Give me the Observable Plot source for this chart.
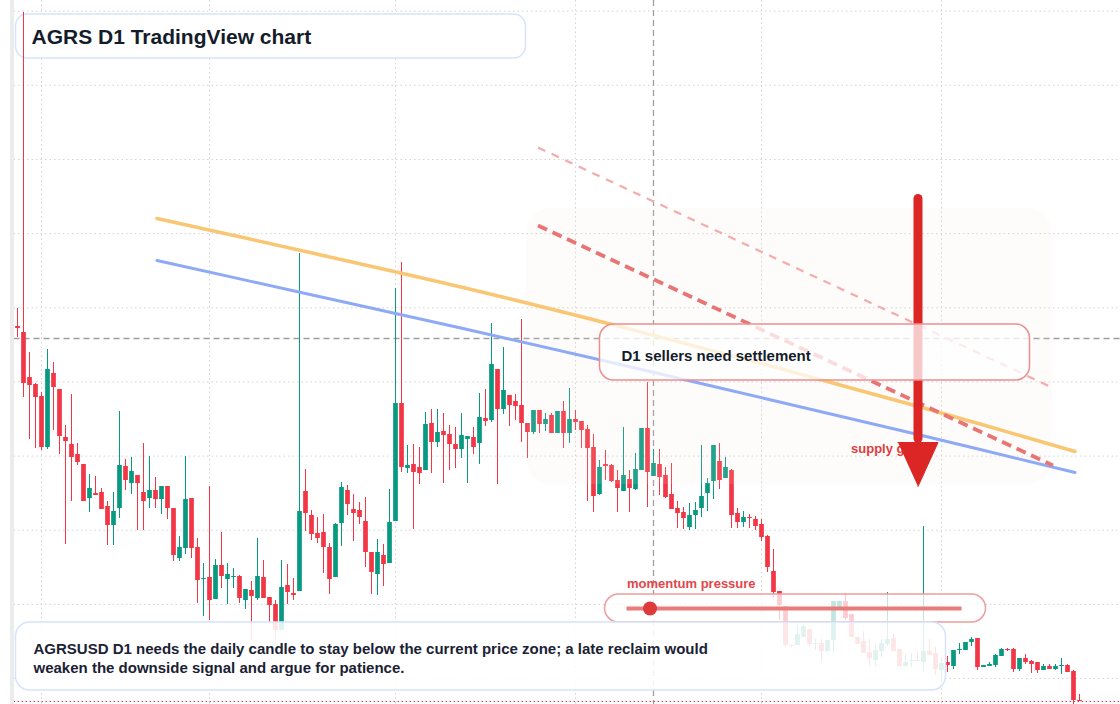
<!DOCTYPE html>
<html>
<head>
<meta charset="utf-8">
<script src="https://cdn.jsdelivr.net/npm/d3@7"></script>
<script src="https://cdn.jsdelivr.net/npm/@observablehq/plot@0.6"></script>
<style>
  html, body { margin: 0; padding: 0; background: #ffffff; }
  #wrap { position: relative; width: 1120px; height: 704px; overflow: hidden; background: #ffffff; }
  #wrap svg { position: absolute; left: 0; top: 0; }
  #strip { position: absolute; left: 10px; top: 0; width: 4px; height: 704px; background: #ececec; z-index: 2; }
</style>
</head>
<body>
<div id="wrap"></div>
<script>
const FONT = "'Liberation Sans', Arial, Helvetica, sans-serif";
const GREEN = "#089981";
const RED = "#f23645";

// Daily candles, day 0 = 2025-01-28 (AGRSUSD, D1)
const openP = [
  .874,.868,.823,.816,.804,.753,.827,.811,.763,.756,
  .746,.736,.702,.707,.708,.694,.675,.692,.734,.717,
  .725,.708,.702,.710,.701,.714,.692,.642,.652,.702,
  .653,.621,.623,.601,.635,.621,.623,.624,.600,.610,
  .602,.623,.603,.596,.570,.615,.607,.609,.709,.685,
  .667,.668,.653,.623,.677,.710,.691,.690,.679,.648,
  .626,.645,.637,.679,.797,.732,.736,.733,.730,.777,
  .758,.769,.766,.756,.751,.761,.763,.757,.782,.780,
  .831,.791,.805,.799,.795,.777,.768,.790,.776,.785,
  .767,.789,.767,.781,.779,.771,.753,.706,.736,.735,
  .720,.709,.721,.711,.730,.772,.724,.736,.725,.706,
  .692,.688,.673,.685,.692,.707,.719,.739,.722,.730,
  .687,.678,.683,.681,.676,.664,.629,.609,.594,.555,
  .555,.563,.571,.556,.557,.549,.560,.592,.599,.586,
  .563,.559,.548,.540,.549,.556,.562,.551,.534,.539,
  .540,.538,.549,.547,.530,.538,.534,.550,.550,.558,
  .562,.533,.534,.535,.544,.551,.551,.531,.542,.539,
  .538,.530,.534,.531,.534,.535,.529,.500
];
const highP = [
  .892,1.188,.848,.817,.808,.851,.838,.811,.775,.806,
  .757,.736,.726,.724,.712,.699,.708,.789,.741,.743,
  .725,.757,.744,.723,.714,.714,.692,.664,.744,.702,
  .662,.637,.714,.641,.668,.637,.632,.625,.611,.619,
  .662,.640,.603,.600,.640,.636,.622,.947,.731,.690,
  .683,.686,.657,.677,.718,.715,.706,.698,.703,.648,
  .661,.656,.711,.912,.938,.755,.756,.753,.788,.791,
  .791,.787,.775,.773,.787,.764,.773,.807,.811,.877,
  .831,.853,.805,.806,.881,.777,.790,.790,.787,.787,
  .789,.799,.812,.790,.779,.775,.766,.740,.750,.736,
  .730,.773,.730,.747,.772,.818,.751,.751,.733,.737,
  .699,.693,.697,.698,.755,.722,.755,.757,.743,.731,
  .692,.689,.686,.684,.681,.665,.651,.609,.594,.555,
  .575,.575,.571,.561,.561,.560,.599,.599,.607,.586,
  .563,.569,.561,.557,.561,.608,.567,.551,.546,.547,
  .549,.674,.561,.553,.543,.544,.550,.557,.558,.563,
  .562,.535,.538,.546,.552,.552,.552,.542,.546,.540,
  .538,.536,.536,.536,.542,.536,.530,.506
];
const lowP = [
  .863,.803,.761,.752,.750,.751,.770,.746,.656,.699,
  .735,.699,.688,.705,.691,.655,.655,.682,.710,.706,
  .670,.670,.692,.692,.686,.681,.639,.639,.646,.642,
  .597,.584,.580,.601,.612,.596,.612,.597,.591,.560,
  .600,.602,.578,.560,.570,.596,.600,.609,.669,.660,
  .657,.627,.606,.623,.654,.685,.659,.676,.633,.606,
  .605,.614,.637,.679,.728,.727,.671,.716,.730,.727,
  .753,.717,.730,.732,.742,.717,.746,.736,.774,.778,
  .716,.786,.774,.780,.758,.742,.766,.767,.769,.767,
  .767,.752,.757,.770,.752,.699,.688,.705,.720,.718,
  .688,.709,.688,.710,.730,.693,.724,.705,.702,.691,
  .672,.671,.670,.671,.683,.689,.701,.711,.722,.672,
  .672,.673,.672,.670,.659,.628,.602,.580,.553,.553,
  .555,.563,.554,.550,.538,.549,.547,.592,.580,.563,
  .556,.547,.534,.534,.543,.554,.549,.534,.534,.533,
  .539,.529,.545,.525,.518,.528,.531,.546,.550,.554,
  .530,.533,.534,.533,.544,.549,.528,.529,.536,.527,
  .527,.530,.531,.530,.526,.528,.496,.499
];
const closeP = [
  .872,.817,.815,.803,.753,.831,.813,.764,.759,.743,
  .738,.699,.712,.705,.691,.675,.689,.735,.720,.729,
  .717,.699,.710,.701,.714,.692,.645,.653,.701,.652,
  .620,.622,.600,.635,.624,.626,.624,.602,.611,.604,
  .624,.602,.595,.570,.613,.608,.605,.689,.687,.666,
  .662,.653,.621,.676,.713,.696,.687,.683,.648,.628,
  .648,.636,.678,.797,.733,.735,.728,.727,.776,.758,
  .768,.765,.756,.751,.765,.764,.753,.783,.779,.836,
  .791,.810,.795,.794,.777,.768,.790,.776,.781,.767,
  .789,.767,.781,.778,.770,.752,.704,.733,.734,.719,
  .712,.725,.712,.731,.772,.728,.737,.723,.703,.691,
  .687,.682,.685,.690,.704,.717,.755,.720,.733,.685,
  .678,.683,.682,.674,.663,.633,.608,.595,.555,.554,
  .566,.574,.556,.557,.549,.560,.599,.599,.582,.563,
  .556,.547,.542,.550,.557,.561,.549,.534,.538,.540,
  .539,.549,.545,.531,.537,.535,.550,.551,.558,.561,
  .533,.535,.536,.545,.551,.550,.531,.542,.538,.536,
  .530,.534,.531,.534,.535,.528,.500,.499
];

// Grid: month starts (day index) and horizontal price levels
const monthStarts = [4, 32, 63, 93, 124, 154];
const monthNames = ["Feb", "Mar", "Apr", "May", "Jun", "Jul"];
const priceGrid = [1.1893, 1.1152, 1.0410, 0.9669, 0.8927, 0.8186, 0.7444, 0.6703, 0.5961, 0.5220];

// Crosshair
const crossDay = 106;
const crossPrice = 0.862;

// Trend lines (day, price)
const trendDays = [23.25, 48.75, 74.25, 99.75, 125.25, 150.75, 176.25];
const orangePrices = [0.982, 0.948, 0.913, 0.875, 0.835, 0.793, 0.749];
const bluePrices = [0.940, 0.906, 0.872, 0.837, 0.801, 0.765, 0.728];

// Dashed resistance lines
const thinDashed = {x1: 86.75, y1: 1.053, x2: 172.08, y2: 0.814};
const thickDashed = {x1: 86.75, y1: 0.975, x2: 172.58, y2: 0.735};

// Drawings
const zone = {x1: 84.92, x2: 172.42, y1: 0.992, y2: 0.716};
const arrowShaft = {x1: 150.08, y1: 1.002, x2: 150.08, y2: 0.762};
const arrowHeadDays = [146.75, 153.42, 150.08];
const arrowHeadPrices = [0.758, 0.758, 0.714];
const titleBox = {x1: -0.25, x2: 84.75, y1: 1.186, y2: 1.142};
const captionBox = {x1: -0.25, x2: 154.75, y1: 0.578, y2: 0.510};
const d1Box = {x1: 97.08, x2: 168.75, y1: 0.876, y2: 0.820};
const pillBox = {x1: 97.92, x2: 161.42, y1: 0.606, y2: 0.578};
const pillLine = {x1: 101.58, x2: 157.42, y: 0.592};
const pillDot = {day: 105.42, price: 0.592};

// Texts
const titleText = "AGRS D1 TradingView chart";
const captionLines = [
  "AGRSUSD D1 needs the daily candle to stay below the current price zone; a late reclaim would",
  "weaken the downside signal and argue for patience."
];
const labels = {
  title: {day: 2.33, price: 1.1632},
  caption: [{day: 2.67, price: 0.5515}, {day: 2.67, price: 0.5321}],
  d1: {day: 100.67, price: 0.8448, text: "D1 sellers need settlement"},
  supply: {day: 138.92, price: 0.7512, text: "supply gate"},
  momentum: {day: 101.58, price: 0.6162, text: "momentum pressure"}
};

const candles = openP.map((o, i) => ({
  day: i, open: o, high: highP[i], low: lowP[i], close: closeP[i],
  color: closeP[i] >= o ? GREEN : RED
}));
const orangePts = trendDays.map((d, i) => ({day: d, price: orangePrices[i]}));
const bluePts = trendDays.map((d, i) => ({day: d, price: bluePrices[i]}));
const headPts = arrowHeadDays.map((d, i) => ({day: d, price: arrowHeadPrices[i]}));
const lastClose = closeP[closeP.length - 1];
const XL = -0.58, XR = 184;
const seg = {x1: "x1", y1: "y1", x2: "x2", y2: "y2"};

const plot = Plot.plot({
  width: 1120, height: 704,
  marginTop: 0, marginRight: 0, marginBottom: 0, marginLeft: 0,
  x: {type: "linear", domain: [-17 / 6, 1103 / 6], range: [0, 1120], axis: null},
  y: {type: "linear", domain: [0.496, 1.2], range: [704, 0], axis: null},
  color: {type: "identity"},
  style: {background: "transparent", fontFamily: FONT, overflow: "visible"},
  marks: [
    Plot.ruleX(monthStarts, {stroke: "#d3d3d3", strokeWidth: 1, strokeDasharray: "1.5,3"}),
    Plot.ruleY(priceGrid, {x1: XL, x2: XR, stroke: "#d3d3d3", strokeWidth: 1, strokeDasharray: "1.5,3"}),
    Plot.rect([titleBox], {...seg, rx: 12, fill: "#ffffff", stroke: "#d6e3fb", strokeWidth: 1.5}),
    Plot.ruleX([crossDay], {stroke: "#9e9e9e", strokeWidth: 1.3, strokeDasharray: "6,4"}),
    Plot.ruleY([crossPrice], {x1: XL, x2: XR, stroke: "#9e9e9e", strokeWidth: 1.3, strokeDasharray: "6,4"}),
    Plot.ruleY([lastClose], {x1: XL, x2: XR, stroke: RED, strokeWidth: 1.2, strokeDasharray: "1.5,2.5"}),
    Plot.ruleX(candles, {x: "day", y1: "low", y2: "high", stroke: "color", strokeWidth: 1}),
    Plot.ruleX(candles, {x: "day", y1: "open", y2: "close", stroke: "color", strokeWidth: 4.7}),
    Plot.rect([zone], {...seg, rx: 24, fill: "#f8e6da", fillOpacity: 0.12}),
    Plot.line(orangePts, {x: "day", y: "price", stroke: "#f9c673", strokeWidth: 3.5, curve: "catmull-rom"}),
    Plot.line(bluePts, {x: "day", y: "price", stroke: "#8eaaf6", strokeWidth: 3, curve: "catmull-rom"}),
    Plot.link([thinDashed], {...seg, stroke: "#f4abab", strokeWidth: 2.2, strokeDasharray: "8,7"}),
    Plot.link([thickDashed], {...seg, stroke: "#e97474", strokeWidth: 3.8, strokeDasharray: "10,6"}),
    Plot.text([labels.supply], {x: "day", y: "price", text: "text", textAnchor: "start", fontSize: 13, fontWeight: 700, fill: "#e03c3c", fontFamily: FONT}),
    Plot.link([arrowShaft], {...seg, stroke: "#dc2626", strokeWidth: 9, strokeLinecap: "round"}),
    Plot.line(headPts, {x: "day", y: "price", fill: "#dc2626", stroke: "#dc2626", strokeWidth: 1, strokeLinejoin: "miter"}),
    Plot.rect([d1Box], {...seg, rx: 14, fill: "#ffffff", fillOpacity: 0.75, stroke: "#ec8e8e", strokeWidth: 1.5}),
    Plot.text([labels.d1], {x: "day", y: "price", text: "text", textAnchor: "start", fontSize: 15, fontWeight: 700, fill: "#141c2b", fontFamily: FONT}),
    Plot.text([labels.momentum], {x: "day", y: "price", text: "text", textAnchor: "start", fontSize: 13, fontWeight: 700, fill: "#e3454a", fontFamily: FONT}),
    Plot.rect([pillBox], {...seg, rx: 14, fill: "#ffffff", fillOpacity: 0.75, stroke: "#ef9c9c", strokeWidth: 1.5}),
    Plot.ruleY([pillLine], {x1: "x1", x2: "x2", y: "y", stroke: "#ea7b7b", strokeWidth: 4}),
    Plot.dot([pillDot], {x: "day", y: "price", r: 7, fill: "#de3a3a", stroke: "none"}),
    Plot.rect([captionBox], {...seg, rx: 14, fill: "#ffffff", fillOpacity: 0.87, stroke: "#d6e3fb", strokeWidth: 1.5}),
    Plot.text(captionLines, {x: (d, i) => labels.caption[i].day, y: (d, i) => labels.caption[i].price, text: d => d, textAnchor: "start", fontSize: 15, fontWeight: 700, fill: "#1a2234", fontFamily: FONT}),
    Plot.text([titleText], {x: labels.title.day, y: labels.title.price, text: d => d, textAnchor: "start", fontSize: 21, fontWeight: 700, fill: "#141c2b", fontFamily: FONT})
  ]
});

const wrap = document.getElementById("wrap");
wrap.appendChild(plot);
const strip = document.createElement("div");
strip.id = "strip";
wrap.appendChild(strip);
</script>
</body>
</html>
